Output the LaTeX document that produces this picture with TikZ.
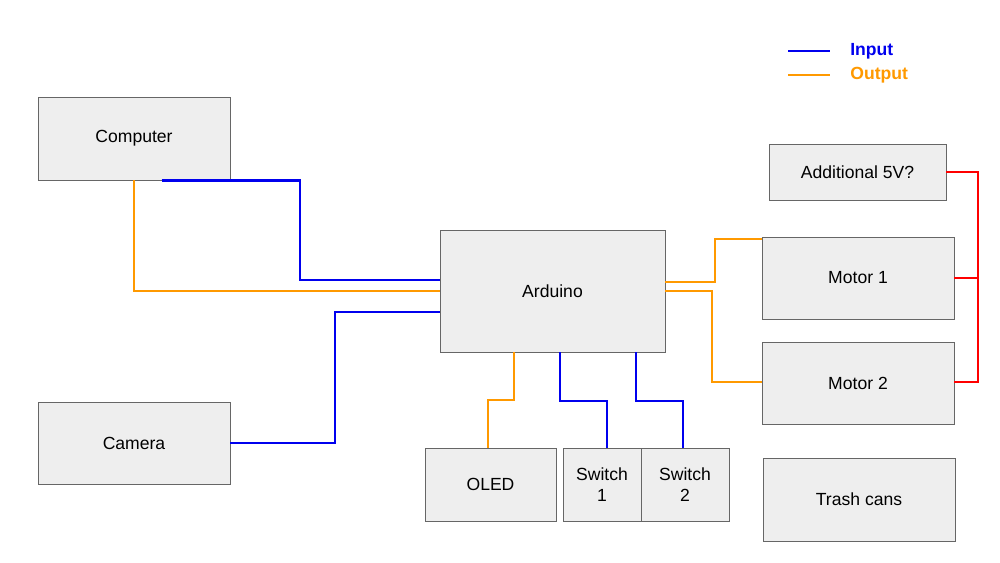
\documentclass[tikz,border=0pt]{standalone}
\usepackage{fontspec}
\setmainfont{Liberation Sans}
\usetikzlibrary{positioning}
\definecolor{inblue}{HTML}{0000EE}
\definecolor{outorange}{HTML}{FF9900}
\definecolor{boxfill}{HTML}{EEEEEE}
\begin{document}
\begin{tikzpicture}[
    x=0.02cm, y=-0.02cm,
    block/.style={draw=black!60, fill=boxfill, inner sep=0pt, align=center, font=\fontsize{10}{12}\selectfont},
    inp/.style={draw=inblue, line width=1.6pt},
    outp/.style={draw=outorange, line width=1.6pt},
    pwr/.style={draw=red, line width=0.8pt}
]
\useasboundingbox (0,0) rectangle (1000,562);

\node[block, minimum width=3.84cm, minimum height=1.66cm] (comp) at (134,138.5) {Computer};
\node[block, minimum width=3.84cm, minimum height=1.64cm] (cam) at (134,443) {Camera};
\node[block, minimum width=4.5cm, minimum height=2.44cm] (ard) at (552.5,291) {Arduino};
\node[block, minimum width=2.62cm, minimum height=1.46cm] (oled) at (490.5,484.5) {OLED};
\node[block, minimum width=1.56cm, minimum height=1.46cm] (sw1) at (602,484.5) {Switch\\1};
\node[block, minimum width=1.76cm, minimum height=1.46cm] (sw2) at (685,484.5) {Switch\\2};
\node[block, minimum width=3.84cm, minimum height=1.66cm] (trash) at (859,499.5) {Trash cans};
\node[block, minimum width=3.84cm, minimum height=1.64cm] (mot1) at (858,278) {Motor 1};
\node[block, minimum width=3.84cm, minimum height=1.64cm] (mot2) at (858,383) {Motor 2};
\node[block, minimum width=3.54cm, minimum height=1.12cm] (extra) at (857.5,172) {Additional 5V?};

% legend
\coordinate (li1) at (788,51); \coordinate (li2) at (830,51);
\coordinate (lo1) at (788,75); \coordinate (lo2) at (830,75);
\draw[inp] (li1) -- (li2);
\draw[outp] (lo1) -- (lo2);
\node[right=0.4cm of li2, inner sep=0pt, text=inblue, font=\bfseries] (lin) {Input};
\node[right=0.4cm of lo2, inner sep=0pt, text=outorange, font=\bfseries] (lout) {Output};

% inputs
\draw[inp] ([xshift=2.48cm]comp.south west) -| (300,280) -- (ard.west |- 0,280);
\draw[inp] (cam.east) -| (335,312) -- (ard.west |- 0,312);
\draw[inp] (ard.south -| 560,0) |- (607,401) -- (sw1.north -| 607,0);
\draw[inp] (ard.south -| 636,0) |- (683,401) -- (sw2.north -| 683,0);

% outputs
\draw[outp] (comp.south) |- (ard.west);
\draw[outp] (ard.east |- 0,282) -| (715,239) -- (mot1.west |- 0,239);
\draw[outp] (ard.east |- 0,291) -| (712,382) -- (mot2.west |- 0,382);
\draw[outp] (ard.south -| 514,0) |- (488,400) -- (oled.north -| 488,0);

% power
\draw[pwr] (extra.east) -| (978,382) -- (mot2.east |- 0,382);
\draw[pwr] (mot1.east) -- (978,278);
\end{tikzpicture}
\end{document}
